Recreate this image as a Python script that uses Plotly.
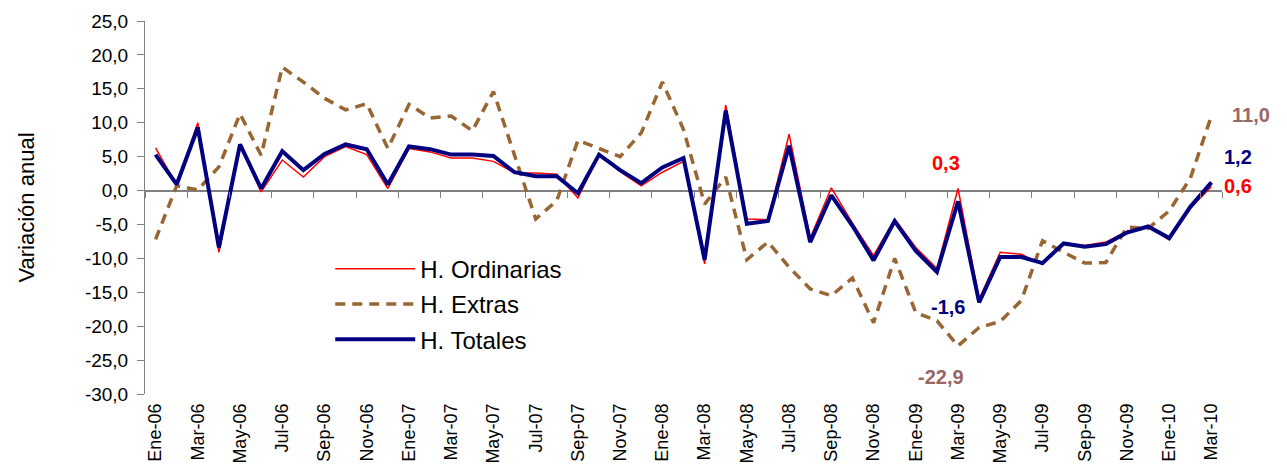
import plotly.graph_objects as go

# meses Ene-06 .. Mar-10
MESES = ["Ene", "Feb", "Mar", "Abr", "May", "Jun", "Jul", "Ago", "Sep", "Oct", "Nov", "Dic"]
categorias = ["%s-%02d" % (m, a) for a in range(6, 11) for m in MESES][:51]

h_ordinarias = [6.3, 0.8, 10.0, -9.1, 6.8, -0.2, 4.5, 2.0, 5.0, 6.5, 5.3, 0.3,
                6.2, 5.7, 4.8, 4.8, 4.3, 2.6, 2.6, 2.4, -1.1, 5.3, 2.8, 0.7,
                2.7, 4.3, -10.8, 12.6, -4.2, -4.3, 8.3, -7.0, 0.4, -4.8, -9.6, -4.2,
                -8.4, -11.5, 0.3, -16.0, -9.1, -9.4, -10.9, -7.7, -8.1, -7.6, -6.0, -5.3,
                -7.3, -2.6, 0.6]
h_extras = [-7.2, 0.7, 0.1, 3.5, 11.3, 5.2, 18.2, 16.0, 13.6, 11.9, 12.8, 6.2,
            12.7, 10.7, 11.0, 8.8, 14.6, 5.0, -4.2, -1.5, 7.4, 6.2, 5.0, 8.5,
            16.0, 9.0, -2.0, 2.0, -10.2, -7.6, -11.3, -14.5, -15.5, -12.9, -19.5, -10.0,
            -18.0, -19.2, -22.9, -20.2, -19.3, -16.2, -7.4, -9.1, -10.7, -10.6, -5.4, -5.6,
            -3.0, 1.8, 11.0]
h_totales = [5.3, 0.9, 9.3, -8.4, 6.8, 0.3, 5.8, 3.0, 5.4, 6.8, 6.1, 0.9,
             6.5, 6.1, 5.3, 5.3, 5.1, 2.7, 2.1, 2.1, -0.4, 5.3, 3.0, 1.1,
             3.4, 4.8, -10.2, 11.8, -4.9, -4.5, 6.6, -7.6, -0.7, -5.2, -10.3, -4.5,
             -8.9, -12.0, -1.6, -16.5, -9.8, -9.8, -10.7, -7.8, -8.3, -7.9, -6.2, -5.3,
             -7.0, -2.4, 1.2]

y_ticks = [25, 20, 15, 10, 5, 0, -5, -10, -15, -20, -25, -30]


def fmt(v):
    return ("%.1f" % v).replace(".", ",")


FONT = "Arial, Liberation Sans, sans-serif"
ROJO = "#FF0000"
MARRON = "#996633"
AZUL = "#000080"
ROSA = "#996666"

x = list(range(len(categorias)))
rango_x = [-0.5, len(categorias) - 0.5]
pos_cero = (0 - y_ticks[-1]) / (y_ticks[0] - y_ticks[-1])

fig = go.Figure()
fig.add_trace(go.Scatter(x=x, y=h_extras, mode="lines", name="H. Extras",
                         line=dict(color=MARRON, width=3.5, dash="10px,7px"),
                         legendrank=2, legendgroup="b"))
fig.add_trace(go.Scatter(x=x, y=h_ordinarias, mode="lines", name="H. Ordinarias",
                         line=dict(color=ROJO, width=1.5),
                         legendrank=1, legendgroup="a"))
fig.add_trace(go.Scatter(x=x, y=h_totales, mode="lines", name="H. Totales",
                         line=dict(color=AZUL, width=4),
                         legendrank=3, legendgroup="c", xaxis="x2"))

i_mar09 = categorias.index("Mar-09")
i_fin = len(categorias) - 1
etiquetas = [
    (i_mar09, h_ordinarias[i_mar09], ROJO, -12, 26),
    (i_mar09, h_totales[i_mar09], AZUL, -10, -106),
    (i_mar09, h_extras[i_mar09], ROSA, -17, -31),
    (i_fin, h_extras[i_fin], ROSA, 40, 1),
    (i_fin, h_totales[i_fin], AZUL, 27, 25),
    (i_fin, h_ordinarias[i_fin], ROJO, 27, 0),
]
for xi, v, col, dx, dy in etiquetas:
    fig.add_annotation(x=xi, y=v, text="<b>%s</b>" % fmt(v), showarrow=False,
                       xshift=dx, yshift=dy, font=dict(family=FONT, size=20, color=col))

# la pagina tiene 8px de margen en el body
fig.update_layout(
    width=1279, height=462, autosize=False,
    margin=dict(l=137, r=65, t=13, b=76),
    paper_bgcolor="white", plot_bgcolor="white",
    font=dict(family=FONT, color="black"),
    legend=dict(x=0.172, y=0.395, xanchor="left", yanchor="top",
                font=dict(family=FONT, size=24), itemwidth=80,
                tracegroupgap=1, bgcolor="rgba(0,0,0,0)"),
    xaxis=dict(range=rango_x, tickvals=x[::2], ticktext=categorias[::2],
               tickangle=-90, showgrid=False, showline=False, zeroline=False,
               ticks="", ticklabelstandoff=5, automargin=False,
               tickfont=dict(family=FONT, size=18)),
    xaxis2=dict(range=rango_x, overlaying="x", anchor="free", position=pos_cero,
                tickvals=[i - 0.5 for i in x[::2]] + [rango_x[1]], ticks="outside",
                ticklen=6, tickcolor="#808080", showticklabels=False,
                showgrid=False, showline=False, zeroline=False),
    yaxis=dict(range=[y_ticks[-1], y_ticks[0]], tickvals=y_ticks,
               ticktext=[fmt(v) for v in y_ticks], showgrid=False,
               showline=True, linecolor="#808080", linewidth=1,
               ticks="outside", ticklen=7, tickcolor="#808080",
               ticklabelstandoff=5, automargin=False,
               zeroline=True, zerolinecolor="#808080", zerolinewidth=2,
               tickfont=dict(family=FONT, size=19),
               title=dict(text="Variación anual", standoff=44,
                          font=dict(family=FONT, size=22))),
)

fig.write_html("out.html")
